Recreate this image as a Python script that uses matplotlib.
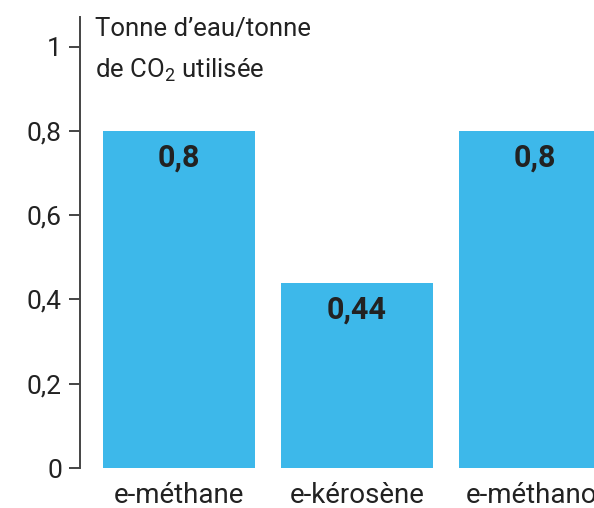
import matplotlib
matplotlib.use("Agg")
import matplotlib.pyplot as plt
from matplotlib import font_manager

# condensed face if present, otherwise plain sans
names = {f.name for f in font_manager.fontManager.ttflist}
FONT = "Liberation Sans Narrow" if "Liberation Sans Narrow" in names else "Roboto"
plt.rcParams["font.family"] = [FONT, "DejaVu Sans"]
plt.rcParams["mathtext.fontset"] = "custom"
plt.rcParams["mathtext.rm"] = FONT

categories = ["e-méthane", "e-kérosène", "e-méthanol"]
values = [0.8, 0.44, 0.8]
value_labels = ["0,8", "0,44", "0,8"]
yticks = [0, 0.2, 0.4, 0.6, 0.8, 1]
ytick_labels = ["0", "0,2", "0,4", "0,6", "0,8", "1"]

BLUE = "#3db8ea"
DARK = "#222222"

fig = plt.figure(figsize=(5.94, 5.08), dpi=100)
W, H = 594, 508
# axes runs past the right edge so the last bar is cut off
ax = fig.add_axes([80 / W, (H - 468) / H, 562 / W, 451 / H])

x = range(len(categories))
ax.bar(x, values, width=0.854, color=BLUE)
ax.set_xlim(-0.556, 2.6)
ax.set_ylim(0, 1.07)

for xi, v, lab in zip(x, values, value_labels):
    ax.text(xi, v - 0.063, lab, ha="center", va="center",
            fontsize=22, fontweight="bold", color=DARK)

ax.set_yticks(yticks)
ax.set_yticklabels(ytick_labels)
ax.set_xticks(list(x))
ax.set_xticklabels(categories)
ax.tick_params(axis="y", length=8, width=1.4, color="#444444",
               labelsize=19, labelcolor=DARK, pad=5)
ax.tick_params(axis="x", length=0, labelsize=20, labelcolor=DARK, pad=10)

for s in ["top", "right", "bottom"]:
    ax.spines[s].set_visible(False)
ax.spines["left"].set_linewidth(1.4)
ax.spines["left"].set_color("#444444")

fig.text(95 / W, 1 - 36 / H, "Tonne d’eau/tonne", fontsize=18.5,
         color=DARK, va="baseline")
fig.text(95 / W, 1 - 77 / H, r"de CO$_2$ utilisée", fontsize=18.5,
         color=DARK, va="baseline")

fig.savefig("out.png", dpi=100)
